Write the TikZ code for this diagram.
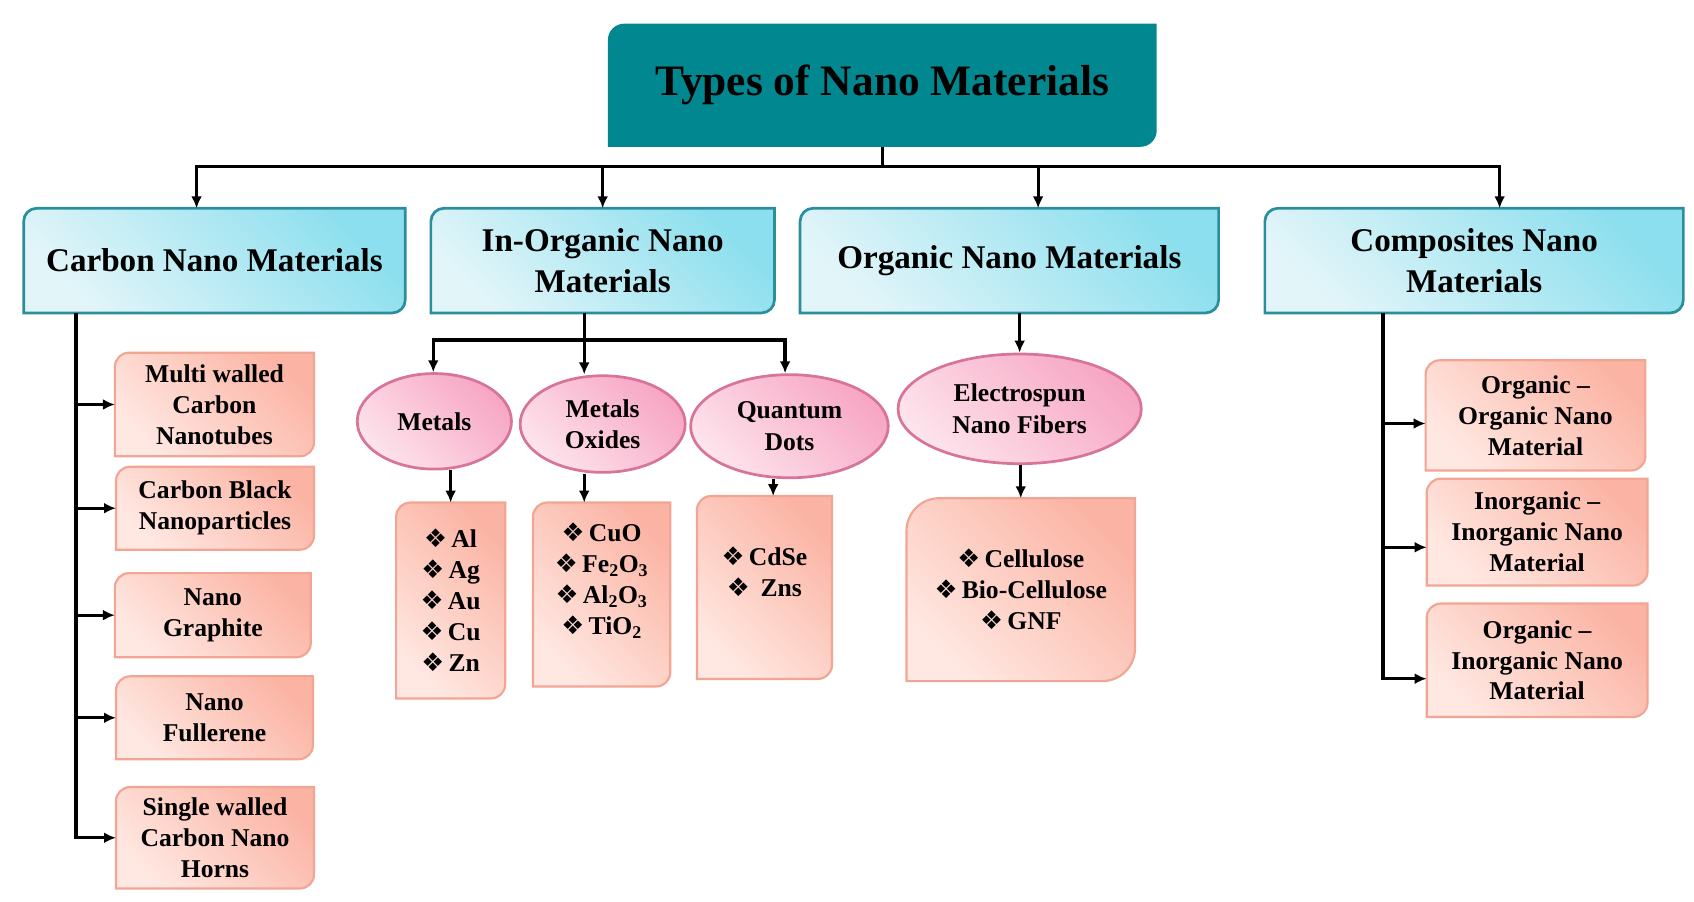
\documentclass[tikz,border=0pt]{standalone}
\usepackage{fontspec}
\setmainfont{Liberation Serif}
\newfontfamily\dejavu{DejaVu Sans}
\usepackage{tikz}
\usetikzlibrary{arrows.meta,positioning,shapes.geometric,backgrounds}
\definecolor{titleteal}{HTML}{00878F}
\definecolor{catline}{HTML}{2A8E9C}
\definecolor{catdark}{HTML}{8CDFEE}
\definecolor{catlight}{HTML}{E2F5F9}
\definecolor{leafline}{HTML}{F2A592}
\definecolor{leafdark}{HTML}{FBB4A4}
\definecolor{leaflight}{HTML}{FFE8E2}
\definecolor{blobline}{HTML}{D8739A}
\definecolor{blobdark}{HTML}{F7A6C3}
\definecolor{bloblight}{HTML}{FDE3EC}
\newcommand{\Dia}{{\dejavu ❖}\,}
\newcommand{\Cutbox}[3]{\path[#3] (#1.south west) -- ([yshift=-#2]#1.north west) arc[start angle=180,end angle=90,radius=#2] -- (#1.north east) -- ([yshift=#2]#1.south east) arc[start angle=0,end angle=-90,radius=#2] -- cycle;}

\begin{document}
\begin{tikzpicture}[x=1pt,y=-1pt,
  catbox/.style={minimum height=96pt,inner sep=0pt,align=center,font={\bfseries\fontsize{30.5}{37}\selectfont}},
  leafbox/.style={inner sep=0pt,align=center,font={\bfseries\fontsize{23.6}{28.5}\selectfont}},
  blob/.style={ellipse,draw=blobline,line width=2.5pt,inner sep=0pt,top color=blobdark,bottom color=bloblight,shading angle=-45,align=center,font={\bfseries\fontsize{23.6}{29}\selectfont}},
  catfill/.style={draw=catline,line width=2.5pt,top color=catdark,bottom color=catlight,shading angle=-45},
  leaffill/.style={draw=leafline,line width=2pt,top color=leafdark,bottom color=leaflight,shading angle=-45},
  arr/.style={-{Latex[length=11pt,width=10pt]},line width=3pt},
  wire/.style={line width=3pt}]
\useasboundingbox (0,0) rectangle (1560,830.6);
% \draw[help lines] (0,0) grid[step=100] (1560,830);
\node (title) [minimum width=505pt,minimum height=113pt,inner sep=0pt,font={\bfseries\fontsize{40}{48}\selectfont}] at (812.5,78.5) {Types of Nano Materials};
%
\node (carbon) [catbox,minimum width=351pt] at (197.5,240) {Carbon Nano Materials};
\node (inorg) [catbox,minimum width=316pt] at (555,240) {In-Organic Nano\\Materials};
\node (org) [catbox,minimum width=385pt] at (929.5,240) {Organic Nano Materials};
\node (comp) [catbox,minimum width=385pt] at (1357.5,240) {Composites Nano\\Materials};
%
\node (c1) [leafbox,minimum width=183pt,minimum height=95pt] at (197.5,372.5) {Multi walled\\Carbon\\Nanotubes};
\node (c2) [leafbox,minimum width=182pt,minimum height=76pt] at (198,468) {Carbon Black\\Nanoparticles};
\node (c3) [leafbox,minimum width=180pt,minimum height=77pt] at (196,566.5) {Nano\\Graphite};
\node (c4) [leafbox,minimum width=181pt,minimum height=76pt] at (197.5,661) {Nano\\Fullerene};
\node (c5) [leafbox,minimum width=182pt,minimum height=93pt] at (198,771.5) {Single walled\\Carbon Nano\\Horns};
%
\node (metals) [blob,minimum width=142pt,minimum height=88pt] at (400,388) {Metals};
\node (oxides) [blob,minimum width=152pt,minimum height=89pt] at (555,390.5) {Metals\\Oxides};
\node (qdots) [blob,minimum width=182pt,minimum height=95pt] at (727,392.5) {Quantum\\Dots};
\node (espun) [blob,minimum width=224pt,minimum height=101pt] at (939,376.5) {Electrospun\\Nano Fibers};
%
\node (mlist) [leafbox,minimum width=100pt,minimum height=180pt] at (415,553) {\Dia Al\\\Dia Ag\\\Dia Au\\\Dia Cu\\\Dia Zn};
\node (olist) [leafbox,minimum width=126pt,minimum height=169pt] at (554,547.5) {\Dia CuO\\\Dia Fe\textsubscript{2}O\textsubscript{3}\\\Dia Al\textsubscript{2}O\textsubscript{3}\\\Dia TiO\textsubscript{2}\\\mbox{}};
\node (qlist) [leafbox,minimum width=124pt,minimum height=168pt] at (704,541) {\Dia CdSe\\\Dia~Zns\\\mbox{}};
\node (elist) [leafbox,minimum width=210pt,minimum height=168pt] at (940,543) {\Dia Cellulose\\\Dia Bio-Cellulose\\\Dia GNF};
%
\node (k1) [leafbox,minimum width=202pt,minimum height=101pt] at (1414,382.5) {Organic --\\Organic Nano\\Material};
\node (k2) [leafbox,minimum width=203pt,minimum height=98pt] at (1415.5,490) {Inorganic --\\Inorganic Nano\\Material};
\node (k3) [leafbox,minimum width=203pt,minimum height=104pt] at (1415.5,608) {Organic --\\Inorganic Nano\\Material};
%
\begin{scope}[on background layer]
\Cutbox{title}{15pt}{fill=titleteal}
\foreach \n in {carbon,inorg,org,comp} {\Cutbox{\n}{12pt}{catfill}}
\foreach \n in {c1,c2,c3,c4,c5,k1,k2,k3,mlist,olist,qlist} {\Cutbox{\n}{13pt}{leaffill}}
\Cutbox{elist}{30pt}{leaffill}
\end{scope}
%
\coordinate (bus) at (812.5,153);
\draw[wire] (title.south) -- (bus);
\draw[arr] (bus) -| ([xshift=-16.5pt]carbon.north);
\draw[arr] (bus) -| (inorg.north);
\draw[arr] (bus) -| ([xshift=26.5pt]org.north);
\draw[arr] (bus) -| ([xshift=23.5pt]comp.north);
%
\coordinate (ctrunk) at ([xshift=-127.5pt]carbon.south);
\foreach \n in {c1,c2,c3,c4,c5} {\draw[arr] (ctrunk) |- (\n.west);}
%
\coordinate (ijoin) at (538,313);
\draw[arr] ([xshift=-17pt]inorg.south) -- ([xshift=-17pt]oxides.north);
\draw[arr] (ijoin) -| ([xshift=-1pt]metals.north);
\draw[arr] (ijoin) -| ([xshift=-4pt]qdots.north);
\draw[arr] (metals.south -| mlist.north) -- (mlist.north);
\coordinate (oin) at ([xshift=-16pt]olist.north);
\draw[arr] (oxides.south -| oin) -- (oin);
\coordinate (qin) at ([xshift=8pt]qlist.north);
\draw[arr] (qdots.south -| qin) -- (qin);
\draw[arr] (org.south -| espun.north) -- (espun.north);
\draw[arr] (espun.south -| elist.north) -- (elist.north);
%
\coordinate (ktrunk) at ([xshift=-84pt]comp.south);
\draw[arr] (ktrunk) |- ([yshift=-7.5pt]k1.west);
\draw[arr] (ktrunk) |- ([yshift=-14pt]k2.west);
\draw[arr] (ktrunk) |- ([yshift=-17pt]k3.west);
\end{tikzpicture}
\end{document}
